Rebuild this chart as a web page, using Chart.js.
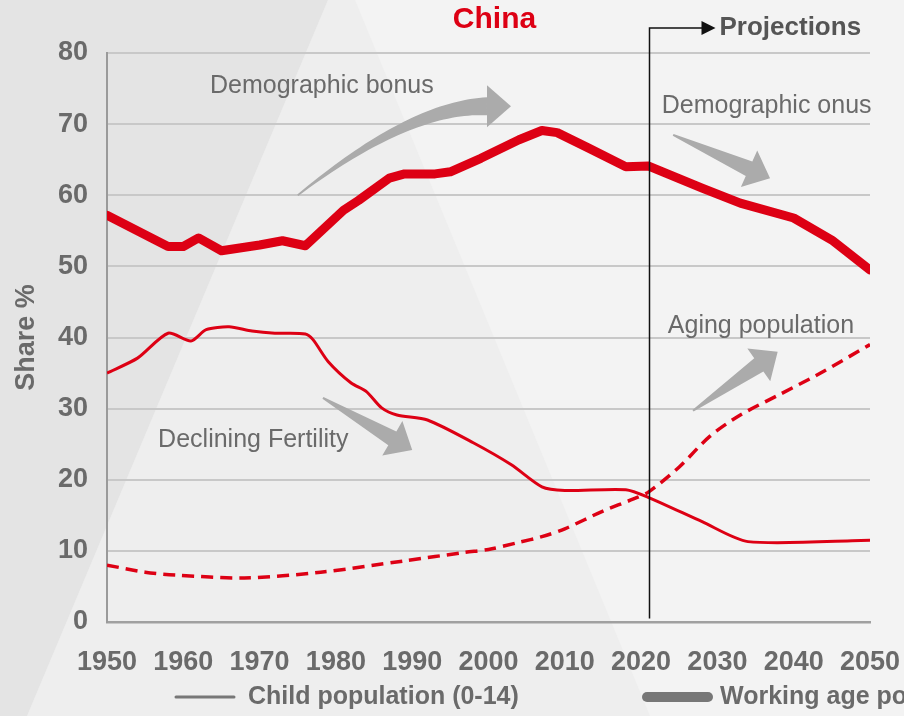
<!DOCTYPE html>
<html lang="en">
<head>
    <meta charset="UTF-8">
    <meta name="viewport" content="width=device-width, initial-scale=1.0">
    <script src="https://cdn.jsdelivr.net/npm/chart.js"></script>
    <title>China - Population Share by Age Group</title>
    <style>
        html, body {
            margin: 0;
            padding: 0;
            background-color: #f1f1f1;
            overflow: hidden;
        }

        .container {
            position: relative;
            width: 904px;
            height: 716px;
        }
    </style>
</head>
<body>

    <div class="container">
        <canvas id="myChart"></canvas>
    </div>

    <script>
        // Data (share of population, %)
        const workingYears = [1950, 1958, 1960, 1962, 1965, 1970, 1973, 1976, 1981, 1983, 1987, 1989, 1993, 1995, 1999, 2004, 2007, 2009, 2013, 2018, 2021, 2028, 2033, 2040, 2045, 2050];
        const workingShare = [57.2, 52.8, 52.8, 54.0, 52.2, 53.0, 53.6, 52.9, 57.9, 59.3, 62.4, 63.0, 63.0, 63.3, 65.2, 67.8, 69.1, 68.8, 66.7, 64.0, 64.1, 61.0, 58.9, 56.8, 53.7, 49.5];

        const childYears = [1950, 1954, 1958, 1961, 1963, 1966, 1969, 1972, 1976, 1977, 1979, 1982, 1984, 1986, 1988, 1992, 1998, 2003, 2007, 2010, 2018, 2021, 2028, 2034, 2050];
        const childShare = [35.0, 37.1, 40.6, 39.5, 41.1, 41.5, 40.9, 40.6, 40.5, 39.7, 36.6, 33.6, 32.4, 30.1, 29.1, 28.4, 25.2, 22.1, 19.0, 18.5, 18.6, 17.5, 14.1, 11.3, 11.5];

        const agedYears = [1950, 1955, 1959, 1968, 1978, 1989, 1997, 2000, 2004, 2007, 2010, 2015, 2019, 2021, 2025, 2029, 2033, 2038, 2043, 2050];
        const agedShare = [8.0, 7.0, 6.6, 6.2, 7.0, 8.6, 9.8, 10.2, 11.2, 12.0, 13.1, 15.6, 17.3, 18.3, 21.8, 26.1, 29.1, 31.9, 34.7, 39.0];

        const yTicks = [0, 10, 20, 30, 40, 50, 60, 70, 80];
        const xTicks = [1950, 1960, 1970, 1980, 1990, 2000, 2010, 2020, 2030, 2040, 2050];
        const projectionYear = 2021;

        const RED = '#dd0014';
        const GREY_TEXT = '#6a6a6a';
        const FONT = "'Liberation Sans', Arial, sans-serif";

        const toPoints = (xs, ys) => xs.map((x, i) => ({ x: x, y: ys[i] }));

        // annotation arrows, in data coordinates [year, share]
        const straightArrows = [
            { from: [1978.3, 31.5], to: [1990.0, 24.2] },   // declining fertility
            { from: [2024.2, 68.5], to: [2036.9, 62.4] },   // demographic onus
            { from: [2026.8, 29.7], to: [2037.9, 38.0] }    // aging population
        ];
        const bonusArrow = { from: [1975.0, 60.0], ctrl: [1989.7, 72.5], to: [1999.8, 72.5] };

        const notes = [
            { text: 'Demographic bonus', at: [1963.5, 75.4] },
            { text: 'Demographic onus', at: [2022.7, 72.5] },
            { text: 'Aging population', at: [2023.5, 41.6] },
            { text: 'Declining Fertility', at: [1956.7, 25.6] }
        ];

        function px(chart, p) {
            return {
                x: chart.scales.x.getPixelForValue(p[0]),
                y: chart.scales.y.getPixelForValue(p[1])
            };
        }

        function straightArrow(ctx, t, p, headLen, headHalf, bodyHalf) {
            const len = Math.hypot(p.x - t.x, p.y - t.y);
            const ux = (p.x - t.x) / len, uy = (p.y - t.y) / len;
            const nx = -uy, ny = ux;
            const bx = p.x - ux * headLen, by = p.y - uy * headLen;
            ctx.beginPath();
            ctx.moveTo(t.x + nx, t.y + ny);
            ctx.lineTo(bx + nx * bodyHalf, by + ny * bodyHalf);
            ctx.lineTo(bx + nx * headHalf, by + ny * headHalf);
            ctx.lineTo(p.x, p.y);
            ctx.lineTo(bx - nx * headHalf, by - ny * headHalf);
            ctx.lineTo(bx - nx * bodyHalf, by - ny * bodyHalf);
            ctx.lineTo(t.x - nx, t.y - ny);
            ctx.closePath();
            ctx.fill();
        }

        function curvedArrow(ctx, t, c, b, headLen, headHalf, bodyHalf) {
            const left = [], right = [];
            for (let i = 0; i <= 40; i++) {
                const s = i / 40;
                const x = (1 - s) * (1 - s) * t.x + 2 * (1 - s) * s * c.x + s * s * b.x;
                const y = (1 - s) * (1 - s) * t.y + 2 * (1 - s) * s * c.y + s * s * b.y;
                const tx = 2 * (1 - s) * (c.x - t.x) + 2 * s * (b.x - c.x);
                const ty = 2 * (1 - s) * (c.y - t.y) + 2 * s * (b.y - c.y);
                const l = Math.hypot(tx, ty);
                const w = 0.8 + (bodyHalf - 0.8) * s;
                left.push([x - ty / l * w, y + tx / l * w]);
                right.push([x + ty / l * w, y - tx / l * w]);
            }
            ctx.beginPath();
            ctx.moveTo(left[0][0], left[0][1]);
            left.forEach(q => ctx.lineTo(q[0], q[1]));
            right.reverse().forEach(q => ctx.lineTo(q[0], q[1]));
            ctx.closePath();
            ctx.fill();

            const l = Math.hypot(b.x - c.x, b.y - c.y);
            const ux = (b.x - c.x) / l, uy = (b.y - c.y) / l;
            ctx.beginPath();
            ctx.moveTo(b.x - uy * headHalf, b.y + ux * headHalf);
            ctx.lineTo(b.x + ux * headLen, b.y + uy * headLen);
            ctx.lineTo(b.x + uy * headHalf, b.y - ux * headHalf);
            ctx.closePath();
            ctx.fill();
        }

        const decorations = {
            id: 'decorations',
            beforeDraw(chart) {
                const ctx = chart.ctx, w = chart.width, h = chart.height;
                ctx.save();
                ctx.fillStyle = '#f3f3f3';
                ctx.fillRect(0, 0, w, h);
                // light "spotlight" triangle
                ctx.fillStyle = '#eeeeee';
                ctx.beginPath();
                ctx.moveTo(328, 0); ctx.lineTo(355, 0); ctx.lineTo(650, h); ctx.lineTo(27, h);
                ctx.closePath(); ctx.fill();
                // darker left band
                ctx.fillStyle = '#e4e4e4';
                ctx.beginPath();
                ctx.moveTo(0, 0); ctx.lineTo(328, 0); ctx.lineTo(27, h); ctx.lineTo(0, h);
                ctx.closePath(); ctx.fill();
                ctx.restore();
            },
            beforeDatasetsDraw(chart) {
                const ctx = chart.ctx;
                ctx.save();
                ctx.fillStyle = '#ababab';
                straightArrows.forEach(a => straightArrow(ctx, px(chart, a.from), px(chart, a.to), 23, 20, 8));
                curvedArrow(ctx, px(chart, bonusArrow.from), px(chart, bonusArrow.ctrl), px(chart, bonusArrow.to), 24, 21, 9);

                ctx.fillStyle = GREY_TEXT;
                ctx.font = '25px ' + FONT;
                ctx.textAlign = 'left';
                ctx.textBaseline = 'middle';
                notes.forEach(n => {
                    const p = px(chart, n.at);
                    ctx.fillText(n.text, p.x, p.y);
                });
                ctx.restore();
            },
            afterDatasetsDraw(chart) {
                const ctx = chart.ctx;
                const x = Math.round(chart.scales.x.getPixelForValue(projectionYear)) + 0.5;
                const yBottom = chart.scales.y.getPixelForValue(0.5);
                const yTop = 28;
                ctx.save();
                ctx.strokeStyle = '#111';
                ctx.fillStyle = '#111';
                ctx.lineWidth = 1.5;
                ctx.beginPath();
                ctx.moveTo(x, yBottom);
                ctx.lineTo(x, yTop);
                ctx.lineTo(x + 54, yTop);
                ctx.stroke();
                ctx.beginPath();
                ctx.moveTo(x + 52, yTop - 7);
                ctx.lineTo(x + 66, yTop);
                ctx.lineTo(x + 52, yTop + 7);
                ctx.closePath();
                ctx.fill();

                ctx.fillStyle = '#555';
                ctx.font = 'bold 26px ' + FONT;
                ctx.textAlign = 'left';
                ctx.textBaseline = 'middle';
                ctx.fillText('Projections', x + 70, yTop);
                ctx.restore();
            },
            afterDraw(chart) {
                const ctx = chart.ctx;
                const area = chart.chartArea;
                ctx.save();
                // title
                ctx.fillStyle = RED;
                ctx.font = 'bold 30px ' + FONT;
                ctx.textAlign = 'center';
                ctx.textBaseline = 'middle';
                ctx.fillText('China', (area.left + area.right) / 2 + 6, 20);

                // legend (runs off the right edge, as in the source)
                const ly = chart.height - 19;
                const ds = chart.data.datasets;
                ctx.strokeStyle = '#777';
                ctx.lineCap = 'round';
                ctx.lineWidth = 3;
                ctx.beginPath(); ctx.moveTo(176, ly); ctx.lineTo(234, ly); ctx.stroke();
                ctx.lineWidth = 10;
                ctx.beginPath(); ctx.moveTo(647, ly); ctx.lineTo(708, ly); ctx.stroke();
                ctx.fillStyle = GREY_TEXT;
                ctx.font = 'bold 25px ' + FONT;
                ctx.textAlign = 'left';
                ctx.fillText(ds[0].label, 248, ly);
                ctx.fillText(ds[1].label, 720, ly);
                ctx.restore();
            }
        };

        const chartData = {
            datasets: [
                {
                    label: 'Child population (0-14)',
                    data: toPoints(childYears, childShare),
                    borderColor: RED,
                    borderWidth: 3,
                    tension: 0.25,
                    pointRadius: 0
                },
                {
                    label: 'Working age population (15-64)',
                    data: toPoints(workingYears, workingShare),
                    borderColor: RED,
                    borderWidth: 9,
                    borderJoinStyle: 'round',
                    borderCapStyle: 'round',
                    tension: 0,
                    pointRadius: 0
                },
                {
                    label: 'Aged population (65+)',
                    data: toPoints(agedYears, agedShare),
                    borderColor: RED,
                    borderWidth: 3.5,
                    borderDash: [12, 7],
                    tension: 0.3,
                    pointRadius: 0
                }
            ]
        };

        const chartConfig = {
            type: 'line',
            data: chartData,
            plugins: [decorations],
            options: {
                responsive: true,
                maintainAspectRatio: false,
                animation: false,
                layout: {
                    padding: { top: 53, right: 34, left: 0, bottom: 0 }
                },
                plugins: {
                    legend: { display: false },
                    title: { display: false },
                    tooltip: { enabled: false }
                },
                scales: {
                    x: {
                        type: 'linear',
                        min: xTicks[0],
                        max: xTicks[xTicks.length - 1],
                        afterFit: s => { s.height = 94; s.paddingLeft = 0; s.paddingRight = 0; },
                        afterBuildTicks: s => { s.ticks = xTicks.map(v => ({ value: v })); },
                        grid: { display: false, drawTicks: false },
                        border: { display: true, color: '#a0a0a0', width: 2.5 },
                        ticks: {
                            padding: 24,
                            color: GREY_TEXT,
                            font: { family: FONT, size: 27, weight: 'bold' },
                            maxRotation: 0,
                            callback: v => String(v)
                        }
                    },
                    y: {
                        min: yTicks[0],
                        max: yTicks[yTicks.length - 1],
                        afterFit: s => { s.width = 107; },
                        afterBuildTicks: s => { s.ticks = yTicks.map(v => ({ value: v })); },
                        grid: { color: '#c8c8c8', lineWidth: 2, drawTicks: false },
                        border: { display: true, color: '#9a9a9a', width: 2 },
                        title: {
                            display: true,
                            text: 'Share %',
                            color: GREY_TEXT,
                            font: { family: FONT, size: 27, weight: 'bold' },
                            padding: { top: 10, bottom: 0 }
                        },
                        ticks: {
                            padding: 19,
                            color: GREY_TEXT,
                            font: { family: FONT, size: 27, weight: 'bold' }
                        }
                    }
                }
            }
        };

        var myChart = new Chart(document.getElementById('myChart'), chartConfig);
    </script>

</body>
</html>
